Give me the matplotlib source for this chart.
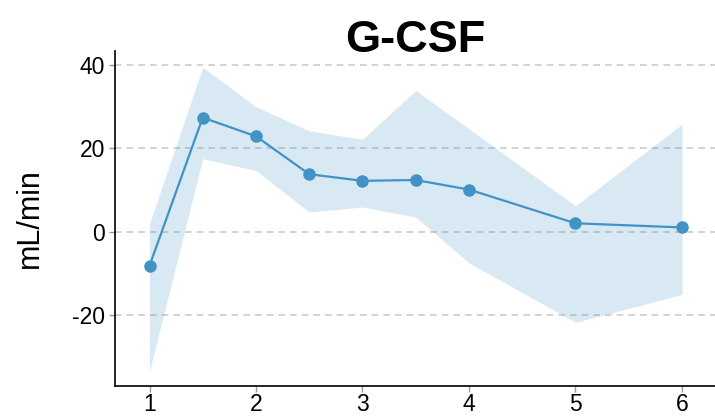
import matplotlib
matplotlib.use("Agg")
import matplotlib.pyplot as plt

x = [1, 1.5, 2, 2.5, 3, 3.5, 4, 5, 6]
mean = [-8.2, 27.4, 22.9, 13.8, 12.2, 12.4, 10.1, 2.0, 1.0]
lower = [-33.6, 17.5, 14.7, 4.7, 5.9, 3.5, -7.5, -21.8, -15.1]
upper = [1.9, 39.5, 30.0, 24.2, 22.2, 33.9, 24.7, 6.2, 25.8]
yticks = [-20, 0, 20, 40]
xticks = [1, 2, 3, 4, 5, 6]
title = "G-CSF"
ylabel = "mL/min"

plt.rcParams['font.family'] = ['Liberation Sans', 'DejaVu Sans']

W, H = 715, 417
fig = plt.figure(figsize=(W / 100, H / 100), dpi=100)
bottom_px = 386
ax = fig.add_axes([115 / W, (H - bottom_px) / H, (715 - 115) / W, (bottom_px - 51) / H])

color = '#4292c6'
ax.fill_between(x, lower, upper, color=color, alpha=0.2, linewidth=0, zorder=2)
ax.plot(x, mean, color=color, linewidth=1.6, marker='o', markersize=8, zorder=3)

ax.set_xlim(0.676, 6.31)
ax.set_ylim(-37.1, 43.4)
ax.set_xticks(xticks)
ax.set_yticks(yticks)
ax.set_xticklabels([str(t) for t in xticks])
ax.set_yticklabels([str(t) for t in yticks])
ax.yaxis.grid(True, linestyle=(0, (4, 3)), color='#cccccc', linewidth=1.2, zorder=1)
ax.set_axisbelow(True)

for s in ['top', 'right']:
    ax.spines[s].set_visible(False)
for s in ['left', 'bottom']:
    ax.spines[s].set_color('black')
    ax.spines[s].set_linewidth(1.2)

ax.tick_params(axis='both', length=4, width=1, color='#999999', labelsize=16.5, labelcolor='black')
ax.tick_params(axis='x', pad=1)
ax.tick_params(axis='y', pad=3)
ax.set_ylabel(ylabel, fontsize=22, labelpad=20)

fig.text((115 + 715) / 2 / W, 1 - 52 / H, title, ha='center', va='baseline', fontsize=32.5, fontweight='bold')

fig.savefig('out.png', dpi=100)
